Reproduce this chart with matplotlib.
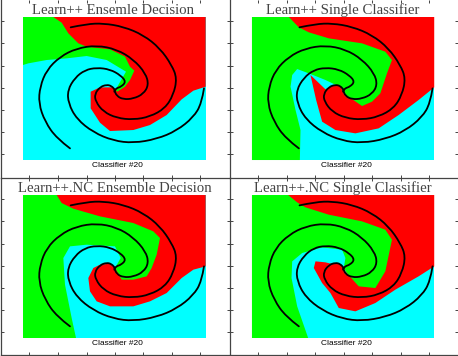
import matplotlib

matplotlib.use("Agg")
import matplotlib.pyplot as plt
from matplotlib.patches import PathPatch
from matplotlib.path import Path

WIDTH, HEIGHT = 458, 356

TITLES = [
    "Learn++ Ensemle Decision",
    "Learn++ Single Classifier",
    "Learn++.NC Ensemble Decision",
    "Learn++.NC Single Classifier",
]
TITLE_X = [340, 342, 345, 342]
SUBTITLE = "Classifier #20"

X_TICKS = [88, 174, 260, 345, 430, 516, 601]
Y_TICKS = [63, 128, 197, 265, 330, 397, 463]

PLOT_BOX = [(69, 51), (617, 51), (617, 480), (69, 480)]

# region outlines (3x zoomed pixels of one panel)
# green runs on underneath the red, which is painted over it
GREEN_1 = [(69, 51), (170, 51), (450, 70), (450, 212), (420, 260), (360, 290), (345, 272),
           (378, 215), (320, 180), (260, 168), (200, 175), (140, 180), (85, 190), (69, 195)]
RED_1 = [(160, 51), (617, 51), (617, 260), (580, 272), (545, 298), (500, 345), (450, 375),
         (400, 390), (330, 393), (300, 368), (272, 325), (272, 275), (300, 262), (340, 262),
         (352, 275), (375, 260), (390, 240), (403, 212), (390, 200), (375, 170), (330, 148),
         (260, 140), (235, 130), (205, 100), (185, 68)]

GREEN_2 = [(69, 51), (180, 51), (520, 60), (520, 250), (450, 330), (400, 330), (345, 280),
           (343, 265), (290, 240), (245, 222), (205, 207), (190, 225), (185, 260), (200, 330),
           (215, 390), (213, 480), (69, 480)]
RED_2 = [(180, 51), (617, 51), (617, 262), (570, 300), (510, 345), (450, 385), (380, 400),
         (320, 390), (280, 365), (262, 300), (245, 225), (290, 268), (310, 258), (335, 258),
         (345, 280), (400, 318), (430, 305), (455, 280), (475, 220), (490, 180), (470, 155),
         (400, 130), (300, 115), (240, 97), (210, 82)]

GREEN_3 = [(69, 51), (200, 51), (520, 60), (520, 250), (440, 330), (365, 320), (345, 270),
           (362, 240), (345, 205), (260, 200), (210, 205), (190, 240), (195, 320), (205, 370),
           (215, 420), (228, 480), (69, 480)]
RED_3 = [(170, 51), (617, 51), (617, 265), (580, 275), (545, 300), (500, 345), (450, 370),
         (400, 385), (330, 385), (290, 370), (270, 340), (265, 300), (280, 270), (300, 260),
         (330, 257), (345, 270), (365, 305), (400, 305), (440, 295), (455, 270), (470, 230),
         (480, 180), (460, 160), (400, 135), (300, 115), (220, 92), (185, 75)]

GREEN_4 = [(69, 51), (190, 51), (520, 60), (520, 250), (440, 350), (390, 340), (345, 270),
           (350, 240), (340, 215), (280, 208), (220, 225), (190, 250), (188, 300), (205, 385),
           (238, 480), (69, 480)]
RED_4 = [(178, 51), (617, 51), (617, 265), (570, 295), (500, 335), (440, 375), (380, 400),
         (330, 390), (305, 345), (280, 315), (255, 270), (260, 250), (290, 253), (310, 258),
         (335, 258), (345, 275), (390, 325), (440, 330), (470, 280), (490, 185), (470, 155),
         (400, 130), (300, 110), (230, 88), (205, 73)]

GREENS = [GREEN_1, GREEN_2, GREEN_3, GREEN_4]
REDS = [RED_1, RED_2, RED_3, RED_4]

# the three spiral arms, same in every panel
ARM_1 = [(212, 82), (260, 72), (310, 70), (370, 80), (430, 105), (480, 145), (515, 195),
         (531, 235), (520, 285), (495, 325), (450, 350), (400, 359), (350, 354), (310, 335),
         (287, 305), (284, 282), (300, 261), (320, 254), (335, 258), (345, 270)]
ARM_2 = [(210, 445), (170, 415), (135, 365), (116, 310), (120, 260), (140, 210), (180, 170),
         (230, 145), (290, 136), (350, 148), (400, 178), (437, 220), (446, 255), (430, 282),
         (400, 296), (370, 298), (350, 288), (343, 270)]
ARM_3 = [(612, 265), (605, 310), (580, 352), (530, 392), (470, 417), (400, 429), (340, 422),
         (280, 397), (230, 357), (205, 310), (203, 270), (225, 233), (255, 210), (290, 203),
         (330, 208), (362, 226), (378, 245), (364, 260), (348, 265), (343, 275)]
ARMS = [ARM_1, ARM_2, ARM_3]


def arm_path(points):
    # quadratic pieces through the midpoints, so the arm comes out smooth
    verts = [points[0]]
    codes = [Path.MOVETO]
    for a, b in zip(points[1:-1], points[2:]):
        verts += [a, ((a[0] + b[0]) / 2, (a[1] + b[1]) / 2)]
        codes += [Path.CURVE3, Path.CURVE3]
    verts.append(points[-1])
    codes.append(Path.LINETO)
    return Path(verts, codes)


def panel_axes(fig, index):
    col, row = index % 2, index // 2
    x0 = 1 if col == 0 else 229.5
    y0, y1 = (0, 177.7) if row == 0 else (177.7, 355)
    ax = fig.add_axes([x0 / WIDTH, 1 - y1 / HEIGHT, 228.5 / WIDTH, (y1 - y0) / HEIGHT])
    ax.patch.set_visible(False)
    if col == 0:
        ax.set_xlim(3, 688.5)
    else:
        ax.set_xlim(1.5, 688.5)
    if row == 0:
        ax.set_ylim(533, 0)
    else:
        ax.set_ylim(531, -1)
    return ax


def main():
    fig = plt.figure(figsize=(WIDTH / 100, HEIGHT / 100), dpi=100)

    for i, title in enumerate(TITLES):
        ax = panel_axes(fig, i)
        ax.fill(*zip(*PLOT_BOX), color="#00ffff", lw=0)
        ax.fill(*zip(*GREENS[i]), color="#00ff00", lw=0)
        ax.fill(*zip(*REDS[i]), color="#ff0000", lw=0)
        for arm in ARMS:
            ax.add_patch(PathPatch(arm_path(arm), fill=False, ec="black", lw=1.3,
                                   capstyle="round"))

        ax.text(TITLE_X[i], 30, title, ha="center", va="center", color="#444444",
                family="Liberation Serif", fontsize=10.6)
        ax.text(352, 497, SUBTITLE, ha="center", va="center", color="black",
                family="Liberation Sans", fontsize=6.0)

        ax.set_xticks(X_TICKS)
        ax.set_yticks(Y_TICKS)
        ax.tick_params(direction="in", length=2.2, width=0.7, color="#444444",
                       labelleft=False, labelbottom=False,
                       top=True, right=True)
        ax.spines["top"].set_visible(False)
        ax.spines["right"].set_visible(False)
        for side in ["left", "bottom"]:
            ax.spines[side].set_color("#444444")
            ax.spines[side].set_linewidth(0.9)

    fig.savefig("out.png", dpi=100)
    plt.close(fig)


if __name__ == "__main__":
    main()
